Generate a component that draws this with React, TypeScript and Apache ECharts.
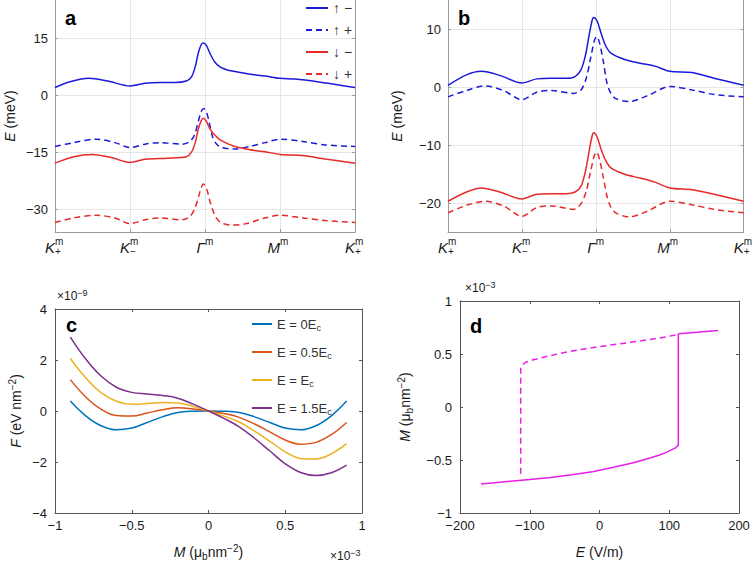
import React, { useEffect, useRef } from "react";
import * as echarts from "echarts";

const FONT = '"Liberation Sans", Arial, Helvetica, sans-serif';
const BLUE = "#1a1ad8";
const RED = "#e62a2a";
const MAGENTA = "#e61ee6";
const C_COLORS = ["#0072BD", "#D95319", "#EDB120", "#7E2F8E"];

// ---- panel a/b : band structure along K+ - K- - Γ - M - K+ ----
const kLetters = ["K", "K", "Γ", "M", "K"];
const kSups = ["m", "m", "m", "m", "m"];
const kSubs = ["+", "−", "", "", "+"];
const aYTicks = [-30, -15, 0, 15];
const bYTicks = [-20, -10, 0, 10];
const aLegend = ["↑ −", "↑ +", "↓ −", "↓ +"];

const aUpMinus = [[0,2.0],[0.2,3.5],[0.45,4.4],[0.7,3.7],[1,2.4],[1.2,3.1],[1.4,3.3],[1.6,3.3],[1.75,3.7],[1.82,4.8],[1.87,7.5],[1.91,11],[1.95,13.3],[1.98,13.7],[2.02,13.0],[2.07,10.8],[2.13,8.7],[2.2,7.4],[2.3,6.6],[2.45,6.0],[2.6,5.5],[2.8,5.0],[3,4.4],[3.2,4.2],[3.5,3.5],[3.8,2.6],[4,2.0]];
const aUpPlus = [[0,-13.5],[0.25,-12.5],[0.55,-11.6],[0.8,-12.5],[1,-13.8],[1.2,-12.9],[1.4,-12.5],[1.7,-12.9],[1.8,-12.2],[1.86,-10.5],[1.91,-7.0],[1.95,-4.3],[1.98,-3.5],[2.02,-4.5],[2.06,-7.5],[2.1,-10.9],[2.15,-12.8],[2.22,-13.8],[2.4,-14.2],[2.6,-13.5],[2.8,-12.5],[3,-11.6],[3.3,-12.2],[3.6,-13.1],[4,-13.5]];
const aDnMinus = [[0,-17.9],[0.25,-16.2],[0.5,-15.6],[0.75,-16.4],[1,-17.7],[1.2,-16.9],[1.5,-16.6],[1.75,-16.2],[1.82,-15.0],[1.87,-12.5],[1.91,-9.0],[1.95,-6.7],[1.98,-6.1],[2.02,-7.0],[2.07,-9.0],[2.13,-10.5],[2.2,-11.8],[2.38,-13.4],[2.6,-14.4],[2.8,-14.9],[3,-15.6],[3.3,-15.9],[3.6,-16.8],[4,-17.9]];
const aDnPlus = [[0,-33.5],[0.25,-32.3],[0.55,-31.6],[0.8,-32.3],[1,-33.8],[1.2,-32.8],[1.4,-32.3],[1.7,-32.8],[1.8,-31.9],[1.86,-30.0],[1.91,-27.0],[1.95,-24.3],[1.98,-23.4],[2.02,-24.5],[2.06,-27.5],[2.1,-30.0],[2.15,-32.3],[2.22,-33.6],[2.35,-34.2],[2.55,-33.8],[2.8,-32.3],[3,-31.6],[3.3,-32.3],[3.6,-33.0],[4,-33.5]];

const bUpMinus = [[0,0.3],[0.25,2.1],[0.45,2.7],[0.7,2.0],[1,0.7],[1.2,1.4],[1.4,1.5],[1.6,1.5],[1.72,1.8],[1.8,3.0],[1.86,5.5],[1.91,9.0],[1.95,11.5],[1.97,12.0],[2.02,11.3],[2.07,9.3],[2.13,7.2],[2.2,5.9],[2.4,4.7],[2.6,4.1],[2.8,3.6],[3,2.7],[3.3,2.5],[3.6,1.5],[4,0.3]];
const bUpPlus = [[0,-1.7],[0.25,-0.6],[0.5,0.2],[0.75,-0.6],[1,-2.2],[1.2,-0.9],[1.4,-0.6],[1.7,-1.1],[1.8,-0.5],[1.87,1.5],[1.93,5.0],[1.98,8.0],[2.01,8.7],[2.05,7.6],[2.1,4.5],[2.15,0.7],[2.2,-1.0],[2.27,-2.0],[2.45,-2.5],[2.7,-1.5],[3,0.1],[3.3,-0.5],[3.6,-1.3],[4,-1.7]];
const bDnMinus = [[0,-19.7],[0.25,-18.1],[0.45,-17.4],[0.7,-18.1],[1,-19.3],[1.2,-18.5],[1.4,-18.4],[1.6,-18.4],[1.72,-18.1],[1.8,-17.1],[1.86,-14.5],[1.91,-11.0],[1.95,-8.4],[1.97,-7.9],[2.02,-8.7],[2.07,-10.7],[2.13,-12.6],[2.2,-13.9],[2.4,-15.1],[2.6,-15.7],[2.8,-16.4],[3,-17.4],[3.3,-17.7],[3.6,-18.5],[4,-19.7]];
const bDnPlus = [[0,-21.7],[0.25,-20.4],[0.5,-19.7],[0.75,-20.5],[1,-22.3],[1.2,-20.8],[1.4,-20.5],[1.7,-21.1],[1.8,-20.1],[1.87,-18.0],[1.93,-14.5],[1.98,-11.8],[2.01,-11.2],[2.05,-12.5],[2.1,-15.5],[2.15,-18.8],[2.2,-20.6],[2.27,-21.7],[2.45,-22.4],[2.7,-21.4],[3,-19.7],[3.3,-20.3],[3.6,-21.1],[4,-21.7]];

// ---- panel c : free energy F(M) (x in 1e-3, y in 1e-9) ----
const cNames = ["E = 0Ec", "E = 0.5Ec", "E = Ec", "E = 1.5Ec"];
const cM = [-0.9,-0.8,-0.7,-0.6,-0.5,-0.4,-0.3,-0.2,-0.1,0,0.1,0.2,0.3,0.4,0.5,0.6,0.7,0.8,0.9];
const cF0 = [0.39,-0.19,-0.58,-0.74,-0.67,-0.45,-0.23,-0.06,-0.01,0,-0.01,-0.06,-0.23,-0.45,-0.67,-0.74,-0.58,-0.19,0.39];
const cF05 = [1.23,0.55,0.07,-0.18,-0.20,-0.08,0.05,0.13,0.08,0,-0.10,-0.25,-0.51,-0.82,-1.14,-1.30,-1.23,-0.93,-0.45];
const cF1 = [2.06,1.30,0.72,0.38,0.26,0.29,0.33,0.31,0.18,0,-0.20,-0.43,-0.79,-1.19,-1.60,-1.86,-1.88,-1.68,-1.28];
const cF15 = [2.90,2.04,1.37,0.93,0.73,0.67,0.61,0.50,0.27,0,-0.29,-0.62,-1.07,-1.57,-2.07,-2.41,-2.53,-2.42,-2.12];

// ---- panel d : hysteresis M(E) (y in 1e-3) ----
const dSolid = [[-170,-0.726],[-150,-0.715],[-120,-0.695],[-100,-0.683],[-70,-0.665],[-40,-0.64],[-10,-0.61],[20,-0.568],[50,-0.524],[70,-0.485],[85,-0.455],[95,-0.43],[103,-0.405],[109,-0.385],[113,-0.36],[113,0.69],[140,0.705],[170,0.722]];
const dDashed = [[-113,-0.63],[-113,0.37],[-110,0.40],[-105,0.425],[-95,0.445],[-80,0.47],[-50,0.515],[-20,0.55],[0,0.57],[30,0.597],[60,0.625],[90,0.655],[113,0.685]];

const minus = (v: number) => String(v).replace("-", "\u2212");
const TXT = "#1a1a1a";

const richBase = {
  it: { fontFamily: FONT, fontSize: 14, fontStyle: "italic", color: TXT, lineHeight: 18 },
  sup: { fontFamily: FONT, fontSize: 10, color: TXT, verticalAlign: "top", lineHeight: 10 },
  sub: { fontFamily: FONT, fontSize: 10, color: TXT, verticalAlign: "bottom", lineHeight: 10 },
};
const nameStyle = { fontFamily: FONT, fontSize: 14, color: TXT, lineHeight: 18, rich: richBase };

function line(name: string, data: any, xi: number, yi: number, color: string, dashed: boolean, smooth: any = 0.3) {
  return {
    type: "line", name, data, xAxisIndex: xi, yAxisIndex: yi, symbol: "none", smooth,
    lineStyle: { color, width: 1.5, type: dashed ? [6, 4] : "solid" },
    itemStyle: { color }, silent: true, z: 3,
  };
}

// main letter (right of it: superscript and subscript, each its own axis label)
function kAxisMain(gridIndex: number) {
  return {
    gridIndex, type: "value", min: 0, max: 4, interval: 1, position: "bottom",
    axisLine: { show: true, onZero: false, lineStyle: { color: "#9a9a9a" } },
    axisTick: { show: true, inside: true, length: 3, lineStyle: { color: "#9a9a9a" } },
    splitLine: { show: true, lineStyle: { color: "#e6e6e6" } },
    axisLabel: {
      margin: 8, align: "right",
      formatter: (v: number) => kLetters[Math.round(v)],
      fontFamily: FONT, fontSize: 15, fontStyle: "italic", color: TXT, lineHeight: 15,
    },
  };
}
function kAxisScript(gridIndex: number, texts: string[], margin: number) {
  return {
    gridIndex, type: "value", min: 0, max: 4, interval: 1, position: "bottom",
    axisLine: { show: false }, axisTick: { show: false }, splitLine: { show: false },
    axisLabel: {
      margin, align: "left",
      formatter: (v: number) => texts[Math.round(v)] || "",
      fontFamily: FONT, fontSize: 10, color: TXT, lineHeight: 8,
    },
  };
}
function eAxis(gridIndex: number, min: number, max: number, ticks: number[], name: string, nameGap: number, right: boolean) {
  return {
    gridIndex, type: "value", min, max, position: right ? "right" : "left",
    axisLine: { show: true, onZero: false, lineStyle: { color: "#9a9a9a" } },
    axisTick: { show: true, inside: true, length: 3, customValues: ticks, lineStyle: { color: "#9a9a9a" } },
    axisLabel: { show: !right, customValues: ticks, formatter: minus, fontFamily: FONT, fontSize: 13, color: TXT, margin: 7 },
    splitLine: { show: !right, lineStyle: { color: "#e6e6e6" } },
    name: right ? "" : name, nameLocation: "middle", nameGap, nameTextStyle: nameStyle,
  };
}
function boxAxis(kind: "x" | "y", gridIndex: number, min: number, max: number, interval: number, pos: string, show: boolean, name = "", nameGap = 0) {
  return {
    gridIndex, type: "value", min, max, interval, position: pos,
    axisLine: { show: true, onZero: false, lineStyle: { color: "#555" } },
    axisTick: { show: true, inside: true, length: 3, lineStyle: { color: "#555" } },
    axisLabel: { show, formatter: minus, fontFamily: FONT, fontSize: 13, color: TXT, margin: kind === "x" ? 6 : 8 },
    splitLine: { show: false },
    name, nameLocation: "middle", nameGap, nameTextStyle: nameStyle,
  };
}

const supText = (text: string, x: number, y: number) => ({
  type: "text", x, y, silent: true,
  style: {
    text, fill: TXT, fontFamily: FONT, fontSize: 12, lineHeight: 16, verticalAlign: "middle",
    rich: { sup: { fontFamily: FONT, fontSize: 9, fill: TXT, verticalAlign: "top", lineHeight: 8 } },
  },
});
const panelLabel = (t: string, x: number, y: number) => ({
  type: "text", x, y, silent: true,
  style: { text: t, fill: "#000", fontFamily: FONT, fontSize: 20, fontWeight: "bold", verticalAlign: "middle" },
});

export default function App() {
  const ref = useRef<HTMLDivElement>(null);
  useEffect(() => {
    if (!ref.current) return;
    const chart = echarts.init(ref.current, undefined, { renderer: "svg" });
    const zip = (xs: number[], ys: number[]) => xs.map((x, i) => [x, ys[i]]);
    const option: any = {
      animation: false,
      backgroundColor: "#fff",
      textStyle: { fontFamily: FONT },
      grid: [
        { left: 55, top: 0, width: 300, height: 232, containLabel: false },
        { left: 448, top: 0, width: 300, height: 232, containLabel: false },
        { left: 55, top: 309, width: 307, height: 206, containLabel: false },
        { left: 460, top: 301, width: 279, height: 214, containLabel: false },
      ],
      legend: [
        {
          data: aLegend, orient: "vertical", left: 300, top: -4, itemWidth: 22, itemHeight: 12, itemGap: 8,
          itemStyle: { opacity: 0 },
          textStyle: { fontFamily: FONT, fontSize: 14, lineHeight: 14, color: "#333" }, selectedMode: false,
        },
        {
          data: cNames, orient: "vertical", left: 246, top: 311, itemWidth: 20, itemHeight: 12, itemGap: 12,
          selectedMode: false, itemStyle: { opacity: 0 },
          formatter: (n: string) => n.replace(/Ec$/, "E{s|c}"),
          textStyle: {
            fontFamily: FONT, fontSize: 13, color: "#333", lineHeight: 16,
            rich: { s: { fontFamily: FONT, fontSize: 9, color: "#333", verticalAlign: "bottom", lineHeight: 9 } },
          },
        },
      ],
      xAxis: [
        kAxisMain(0), kAxisScript(0, kSups, 5), kAxisScript(0, kSubs, 15),
        kAxisMain(1), kAxisScript(1, kSups, 5), kAxisScript(1, kSubs, 15),
        boxAxis("x", 2, -1, 1, 0.5, "bottom", true, "{it|M} (μ{sub|b}nm{sup|−2})", 30),
        boxAxis("x", 2, -1, 1, 0.5, "top", false),
        boxAxis("x", 3, -200, 200, 100, "bottom", true, "{it|E} (V/m)", 30),
        boxAxis("x", 3, -200, 200, 100, "top", false),
      ],
      yAxis: [
        eAxis(0, -36, 25, aYTicks, "{it|E} (meV)", 36, false),
        eAxis(0, -36, 25, aYTicks, "", 0, true),
        eAxis(1, -25, 15, bYTicks, "{it|E} (meV)", 42, false),
        eAxis(1, -25, 15, bYTicks, "", 0, true),
        boxAxis("y", 2, -4, 4, 2, "left", true, "{it|F} (eV nm{sup|−2})", 30),
        boxAxis("y", 2, -4, 4, 2, "right", false),
        boxAxis("y", 3, -1, 1, 0.5, "left", true, "{it|M} (μ{sub|b}nm{sup|−2})", 46),
        boxAxis("y", 3, -1, 1, 0.5, "right", false),
      ],
      series: [
        line(aLegend[0], aUpMinus, 0, 0, BLUE, false),
        line(aLegend[1], aUpPlus, 0, 0, BLUE, true),
        line(aLegend[2], aDnMinus, 0, 0, RED, false),
        line(aLegend[3], aDnPlus, 0, 0, RED, true),
        line("b1", bUpMinus, 3, 2, BLUE, false),
        line("b2", bUpPlus, 3, 2, BLUE, true),
        line("b3", bDnMinus, 3, 2, RED, false),
        line("b4", bDnPlus, 3, 2, RED, true),
        line(cNames[0], zip(cM, cF0), 6, 4, C_COLORS[0], false, 0.4),
        line(cNames[1], zip(cM, cF05), 6, 4, C_COLORS[1], false, 0.4),
        line(cNames[2], zip(cM, cF1), 6, 4, C_COLORS[2], false, 0.4),
        line(cNames[3], zip(cM, cF15), 6, 4, C_COLORS[3], false, 0.4),
        line("dSolid", dSolid, 8, 6, MAGENTA, false, false),
        line("dDashed", dDashed, 8, 6, MAGENTA, true, false),
      ],
      graphic: [
        panelLabel("a", 65, 18),
        panelLabel("b", 458, 18),
        panelLabel("c", 66, 325),
        panelLabel("d", 470, 326),
        supText("×10{sup|−9}", 57, 296),
        supText("×10{sup|−3}", 330, 556),
        supText("×10{sup|−3}", 465, 288),
      ],
    };
    chart.setOption(option);
    return () => chart.dispose();
  }, []);
  return <div ref={ref} style={{ position: "fixed", left: 0, top: 0, width: 755, height: 562 }} />;
}
